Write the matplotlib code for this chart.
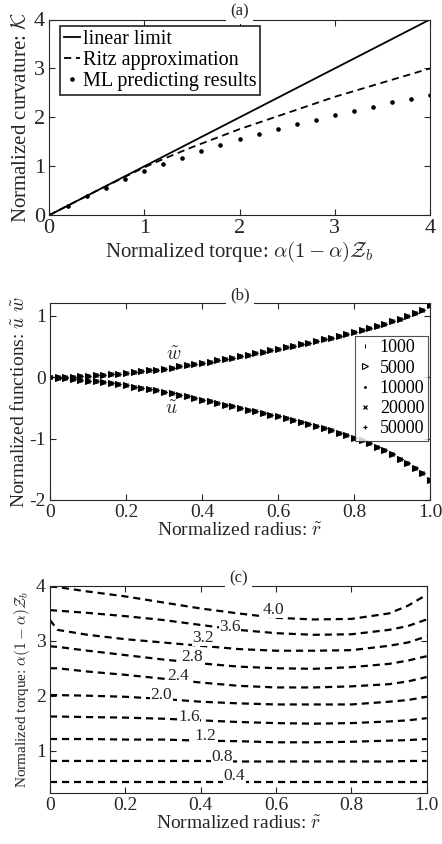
import numpy as np
import matplotlib
matplotlib.use("Agg")
import matplotlib.pyplot as plt

plt.rcParams['font.family'] = ['Liberation Serif', 'DejaVu Serif']
plt.rcParams['mathtext.fontset'] = 'cm'

# ---------------- data: panel (a) ----------------
lin_x = [0, 4]
lin_y = [0, 4]
ritz_x = [0, 0.5, 1.0, 1.2, 1.5, 2.0, 2.5, 3.0, 3.5, 4.0]
ritz_y = [0, 0.50, 0.98, 1.15, 1.39, 1.76, 2.09, 2.42, 2.71, 3.0]
ml_x = [0, 0.2, 0.4, 0.6, 0.8, 1.0, 1.2, 1.4, 1.6, 1.8, 2.0, 2.2, 2.4, 2.6, 2.8,
        3.0, 3.2, 3.4, 3.6, 3.8, 4.0]
ml_y = [0, 0.19, 0.39, 0.565, 0.74, 0.90, 1.05, 1.18, 1.32, 1.43, 1.55, 1.67,
        1.77, 1.87, 1.95, 2.05, 2.14, 2.22, 2.31, 2.37, 2.45]

# ---------------- data: panel (b) ----------------
r_b = [0.00, 0.02, 0.04, 0.06, 0.08, 0.10, 0.12, 0.14, 0.16, 0.18, 0.20, 0.22, 0.24,
       0.26, 0.28, 0.30, 0.32, 0.34, 0.36, 0.38, 0.40, 0.42, 0.44, 0.46, 0.48, 0.50,
       0.52, 0.54, 0.56, 0.58, 0.60, 0.62, 0.64, 0.66, 0.68, 0.70, 0.72, 0.74, 0.76,
       0.78, 0.80, 0.82, 0.84, 0.86, 0.88, 0.90, 0.92, 0.94, 0.96, 0.98, 1.00]
w_b = [0.000, 0.002, 0.005, 0.009, 0.014, 0.020, 0.027, 0.035, 0.045, 0.056, 0.068,
       0.080, 0.093, 0.107, 0.122, 0.138, 0.155, 0.172, 0.190, 0.209, 0.229, 0.249,
       0.270, 0.292, 0.314, 0.337, 0.360, 0.384, 0.408, 0.433, 0.458, 0.483, 0.509,
       0.535, 0.561, 0.588, 0.615, 0.643, 0.672, 0.702, 0.733, 0.765, 0.798, 0.833,
       0.869, 0.907, 0.947, 0.989, 1.035, 1.090, 1.165]
u_b = [0.000, -0.010, -0.020, -0.031, -0.043, -0.056, -0.070, -0.085, -0.101, -0.118,
       -0.136, -0.155, -0.175, -0.196, -0.218, -0.241, -0.265, -0.290, -0.315, -0.341,
       -0.367, -0.393, -0.420, -0.447, -0.474, -0.501, -0.528, -0.556, -0.584, -0.612,
       -0.641, -0.670, -0.700, -0.731, -0.763, -0.796, -0.830, -0.866, -0.904, -0.944,
       -0.986, -1.030, -1.078, -1.130, -1.190, -1.255, -1.325, -1.400, -1.480, -1.565,
       -1.670]
series_labels = ['1000', '5000', '10000', '20000', '50000']
series_markers = ['|', '>', '.', 'x', '+']

# ---------------- data: panel (c) ----------------
r_c = [0, 0.02, 0.1, 0.2, 0.3, 0.4, 0.5, 0.6, 0.7, 0.8, 0.9, 0.95, 1.0]
levels_c = [0.4, 0.8, 1.2, 1.6, 2.0, 2.4, 2.8, 3.2, 3.6, 4.0]
level_lines = {
    0.4: [0.42, 0.42, 0.42, 0.42, 0.42, 0.42, 0.42, 0.42, 0.42, 0.42, 0.42, 0.42, 0.42],
    0.8: [0.81, 0.81, 0.81, 0.81, 0.81, 0.81, 0.80, 0.80, 0.80, 0.80, 0.80, 0.81, 0.81],
    1.2: [1.21, 1.21, 1.21, 1.20, 1.20, 1.18, 1.17, 1.15, 1.15, 1.16, 1.18, 1.19, 1.21],
    1.6: [1.62, 1.62, 1.61, 1.60, 1.58, 1.55, 1.52, 1.50, 1.49, 1.50, 1.53, 1.55, 1.59],
    2.0: [2.01, 2.01, 2.00, 1.98, 1.94, 1.89, 1.86, 1.84, 1.84, 1.84, 1.89, 1.92, 1.98],
    2.4: [2.50, 2.50, 2.44, 2.38, 2.31, 2.24, 2.18, 2.15, 2.15, 2.17, 2.21, 2.26, 2.34],
    2.8: [2.90, 2.89, 2.82, 2.74, 2.66, 2.59, 2.53, 2.50, 2.49, 2.52, 2.58, 2.64, 2.72],
    3.2: [3.38, 3.20, 3.11, 3.03, 2.97, 2.91, 2.85, 2.82, 2.82, 2.83, 2.91, 2.97, 3.08],
    3.6: [3.56, 3.55, 3.51, 3.45, 3.38, 3.29, 3.20, 3.14, 3.11, 3.12, 3.20, 3.27, 3.39],
    4.0: [3.99, 3.98, 3.90, 3.81, 3.70, 3.59, 3.50, 3.42, 3.39, 3.40, 3.50, 3.64, 3.84],
}
label_pos = {
    0.4: (0.49, 0.53), 0.8: (0.456, 0.89), 1.2: (0.413, 1.27), 1.6: (0.369, 1.62),
    2.0: (0.296, 2.01), 2.4: (0.341, 2.35), 2.8: (0.376, 2.71), 3.2: (0.407, 3.05),
    3.6: (0.478, 3.26), 4.0: (0.593, 3.56),
}

# ---------------- figure ----------------
W, H = 442, 844
fig = plt.figure(figsize=(W / 100, H / 100), dpi=100)

def rect(l, r, t, b):
    return [l / W, 1 - b / H, (r - l) / W, (b - t) / H]

AX_COL = '#262626'

def style(ax, fs):
    ax.tick_params(direction='in', top=True, right=True, length=4, width=0.8,
                   labelsize=fs, colors=AX_COL, pad=3)
    for s in ax.spines.values():
        s.set_color(AX_COL)
        s.set_linewidth(0.8)

def panel_title(ax, txt, fs):
    ax.text(0.5, 1.0, txt, transform=ax.transAxes, ha='center', va='bottom',
            fontsize=fs, color=AX_COL, zorder=10,
            bbox=dict(facecolor='white', edgecolor='none',
                      boxstyle='square,pad=0.25'))

# ---- (a)
ax1 = fig.add_axes(rect(49, 430, 19.5, 215.3))
ax1.plot(lin_x, lin_y, '-', color='k', lw=1.3, label='linear limit')
ax1.plot(ritz_x, ritz_y, color='k', lw=1.3, linestyle=(0, (4, 2.6)),
         label='Ritz approximation')
ax1.plot(ml_x, ml_y, 'o', color='k', ms=2.3, ls='none', label='ML predicting results')
ax1.set_xlim(0, 4)
ax1.set_ylim(0, 4)
ax1.set_xticks([0, 1, 2, 3, 4])
ax1.set_yticks([0, 1, 2, 3, 4])
style(ax1, 16)
ax1.set_xlabel(r'Normalized torque: $\alpha(1-\alpha)\mathcal{Z}_b$', fontsize=15,
               color=AX_COL, labelpad=1)
ax1.set_ylabel(r'Normalized curvature: $\mathcal{K}$', fontsize=15, color=AX_COL,
               labelpad=2)
leg = ax1.legend(loc='upper left', bbox_to_anchor=(0.028, 0.965), fontsize=14.5,
                 frameon=True, fancybox=False, handlelength=0.8, handletextpad=0.15,
                 labelspacing=0.08, borderpad=0.2, borderaxespad=0.0)
leg.get_frame().set_edgecolor('k')
leg.get_frame().set_linewidth(1.3)
panel_title(ax1, '(a)', 12)

# ---- (b)
ax2 = fig.add_axes(rect(50, 430, 303.3, 500))
for lab, mk in zip(series_labels, series_markers):
    kw = dict(color='k', ls='none', ms=3.5, mew=0.8)
    if mk == '>':
        kw.update(mfc='k', ms=4.6, mew=0.8)
    if mk == '.':
        kw.update(ms=2.5)
    if mk in ('x', '+'):
        kw.update(ms=2.6, mew=0.9)
    ax2.plot(r_b, w_b, marker=mk, label=lab, **kw)
    ax2.plot(r_b, u_b, marker=mk, **kw)
ax2.set_xlim(0, 1)
ax2.set_ylim(-2, 1.2)
ax2.set_xticks([0, 0.2, 0.4, 0.6, 0.8, 1.0])
ax2.set_xticklabels(['0', '0.2', '0.4', '0.6', '0.8', '1.0'])
ax2.set_yticks([-2, -1, 0, 1])
ax2.set_yticklabels(['-2', '-1', '0', '1'])
style(ax2, 14)
ax2.text(0.325, 0.36, r'$\tilde{w}$', fontsize=14, ha='center', va='center',
         color=AX_COL, zorder=10)
ax2.text(0.32, -0.52, r'$\tilde{u}$', fontsize=14, ha='center', va='center',
         color=AX_COL, zorder=10)
ax2.set_xlabel(r'Normalized radius: $\tilde{r}$', fontsize=14, color=AX_COL, labelpad=1)
ax2.set_ylabel(r'Normalized functions: $\tilde{u}\ \tilde{w}$', fontsize=14,
               color=AX_COL, labelpad=1)
leg2 = ax2.legend(loc='upper right', bbox_to_anchor=(0.995, 0.835), fontsize=13,
                  frameon=True, fancybox=False, handlelength=0.8, handletextpad=0.4,
                  labelspacing=0.18, borderpad=0.2, borderaxespad=0.0)
leg2.get_frame().set_edgecolor(AX_COL)
leg2.get_frame().set_linewidth(0.8)
# legend shows the 5000 marker as an open triangle
leg2.legend_handles[1].set_markerfacecolor('none')
panel_title(ax2, '(b)', 12)

# ---- (c)
ax3 = fig.add_axes(rect(50, 426.7, 586, 793.3))
for lev in levels_c:
    ax3.plot(r_c, level_lines[lev], color='k', lw=1.6, linestyle=(0, (3.2, 2.2)))
    lx, ly = label_pos[lev]
    ax3.text(lx, ly, f'{lev:.1f}', fontsize=12.5, ha='center', va='center',
             color=AX_COL, zorder=5,
             bbox=dict(facecolor='white', edgecolor='none', pad=0.2))
ax3.set_xlim(0, 1)
ax3.set_ylim(0.22, 4)
ax3.set_xticks([0, 0.2, 0.4, 0.6, 0.8, 1.0])
ax3.set_xticklabels(['0', '0.2', '0.4', '0.6', '0.8', '1.0'])
ax3.set_yticks([1, 2, 3, 4])
style(ax3, 14)
ax3.set_xlabel(r'Normalized radius: $\tilde{r}$', fontsize=14, color=AX_COL, labelpad=1)
ax3.set_ylabel(r'Normalized torque: $\alpha(1-\alpha)\mathcal{Z}_b$', fontsize=11,
               color=AX_COL, labelpad=3)
panel_title(ax3, '(c)', 12)

fig.savefig('out.png', dpi=100)
